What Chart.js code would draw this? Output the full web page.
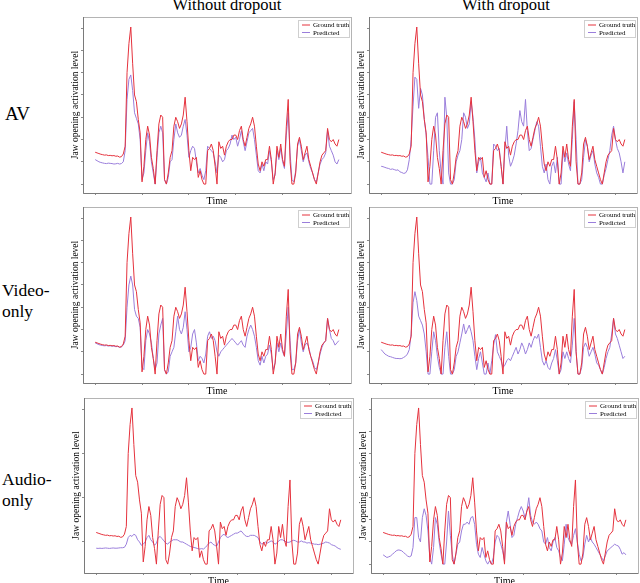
<!DOCTYPE html>
<html><head><meta charset="utf-8">
<script src="https://cdn.jsdelivr.net/npm/chart.js@4"></script>
<style>
html,body{margin:0;padding:0;background:#fff}
body{width:640px;height:583px;position:relative;overflow:hidden;font-family:"Liberation Serif",serif;color:#000}
.t{position:absolute;white-space:nowrap;text-align:center;font-family:"Liberation Serif",serif}
.col{font-size:16.5px;line-height:16.5px;top:-3px;width:200px}
.row{font-size:17.5px;line-height:21px;text-align:left;left:2px}
.pn{position:absolute}
</style></head><body>
<div class="t col" style="left:127px">Without dropout</div>
<div class="t col" style="left:406px">With dropout</div>
<div class="t row" style="top:103px;left:5px;font-size:19px">AV</div>
<div class="t row" style="top:280px">Video-<br>only</div>
<div class="t row" style="top:469px">Audio-<br>only</div>
<div class="pn" id="p0"><canvas id="c0"></canvas></div>
<div class="pn" id="p1"><canvas id="c1"></canvas></div>
<div class="pn" id="p2"><canvas id="c2"></canvas></div>
<div class="pn" id="p3"><canvas id="c3"></canvas></div>
<div class="pn" id="p4"><canvas id="c4"></canvas></div>
<div class="pn" id="p5"><canvas id="c5"></canvas></div>
<script>
// ---- data (frame index, step 2) ----
const frames = Array.from({length:131},(_,i)=>i*2);
const xTicks = [0,50,100,150,200,250];
const yTicks = [0,0.1,0.2,0.3,0.4,0.5,0.6,0.7];
const yTicksAudio = [0.1,0.3,0.5,0.7];
const seriesNames = ['Ground truth','Predicted'];

const groundTruth = [0.143,0.140,0.137,0.134,0.132,0.130,0.131,0.128,0.129,0.127,0.128,0.125,0.126,0.121,0.123,0.135,0.170,0.500,0.630,0.705,
0.540,0.400,0.370,0.290,0.230,0.010,0.080,0.200,0.260,0.220,0.120,0.070,0.000,0.150,0.270,0.310,0.300,0.020,0.000,0.050,
0.120,0.150,0.260,0.300,0.280,0.250,0.270,0.310,0.390,0.280,0.150,0.060,0.120,0.110,0.120,0.030,0.060,0.020,0.000,0.000,
0.150,0.160,0.180,0.150,0.080,0.000,0.190,0.160,0.170,0.130,0.170,0.190,0.200,0.200,0.220,0.220,0.200,0.240,0.260,0.200,
0.170,0.210,0.250,0.270,0.300,0.260,0.170,0.090,0.060,0.100,0.080,0.110,0.110,0.170,0.110,0.000,0.050,0.170,0.120,0.180,
0.110,0.080,0.260,0.380,0.100,0.000,0.000,0.050,0.180,0.210,0.170,0.110,0.140,0.170,0.110,0.080,0.050,0.020,0.000,0.050,
0.100,0.130,0.140,0.150,0.250,0.200,0.190,0.200,0.180,0.170,0.200];

const predAV = [0.110,0.105,0.100,0.097,0.095,0.093,0.092,0.094,0.093,0.092,0.090,0.091,0.093,0.090,0.092,0.100,0.150,0.380,0.470,0.490,
0.420,0.320,0.295,0.270,0.200,0.020,0.050,0.150,0.230,0.190,0.100,0.050,0.000,0.120,0.230,0.260,0.230,0.020,0.000,0.030,
0.100,0.110,0.200,0.270,0.230,0.210,0.220,0.260,0.290,0.220,0.120,0.150,0.170,0.160,0.100,0.050,0.070,0.040,0.020,0.060,
0.170,0.160,0.150,0.140,0.100,0.050,0.130,0.120,0.100,0.110,0.150,0.160,0.180,0.220,0.200,0.210,0.170,0.200,0.240,0.190,
0.150,0.190,0.230,0.240,0.250,0.200,0.130,0.060,0.050,0.090,0.060,0.100,0.090,0.150,0.100,0.020,0.040,0.150,0.110,0.160,
0.100,0.070,0.220,0.320,0.140,0.020,0.010,0.060,0.170,0.200,0.150,0.100,0.130,0.140,0.100,0.070,0.050,0.020,0.010,0.050,
0.090,0.110,0.120,0.140,0.240,0.170,0.150,0.130,0.100,0.090,0.110];

const predAVDropout = [0.080,0.078,0.075,0.072,0.070,0.066,0.068,0.065,0.062,0.064,0.055,0.052,0.048,0.050,0.064,0.110,0.200,0.350,0.480,0.470,
0.340,0.430,0.400,0.290,0.220,0.120,0.000,0.000,0.150,0.300,0.320,0.150,0.050,0.000,0.390,0.300,0.050,0.000,0.000,0.020,
0.100,0.130,0.150,0.200,0.320,0.300,0.250,0.270,0.370,0.300,0.200,0.050,0.100,0.120,0.050,0.030,0.010,0.050,0.000,0.000,
0.180,0.170,0.150,0.160,0.080,0.000,0.150,0.260,0.130,0.080,0.100,0.130,0.180,0.240,0.330,0.280,0.260,0.380,0.240,0.150,
0.160,0.200,0.240,0.280,0.260,0.170,0.080,0.050,0.090,0.020,0.000,0.080,0.100,0.050,0.120,0.000,0.000,0.150,0.100,0.140,
0.090,0.060,0.200,0.370,0.200,0.000,0.000,0.020,0.120,0.200,0.170,0.100,0.130,0.150,0.090,0.050,0.030,0.000,0.000,0.040,
0.070,0.110,0.150,0.220,0.260,0.200,0.160,0.140,0.100,0.050,0.100];

const predVideo = [0.140,0.136,0.132,0.130,0.128,0.127,0.128,0.126,0.127,0.125,0.126,0.123,0.124,0.120,0.122,0.130,0.150,0.300,0.400,0.440,
0.400,0.290,0.260,0.250,0.210,0.030,0.020,0.150,0.200,0.180,0.140,0.070,0.020,0.050,0.180,0.220,0.250,0.020,0.000,0.010,
0.080,0.100,0.120,0.190,0.260,0.200,0.180,0.210,0.280,0.200,0.100,0.120,0.180,0.200,0.140,0.060,0.080,0.070,0.050,0.090,
0.170,0.190,0.160,0.170,0.150,0.100,0.080,0.100,0.110,0.120,0.130,0.140,0.150,0.160,0.150,0.140,0.130,0.140,0.150,0.130,
0.120,0.170,0.200,0.220,0.200,0.170,0.120,0.060,0.040,0.080,0.050,0.080,0.090,0.130,0.090,0.020,0.050,0.140,0.100,0.140,
0.100,0.080,0.180,0.300,0.150,0.020,0.020,0.050,0.150,0.200,0.140,0.100,0.130,0.140,0.120,0.080,0.060,0.030,0.020,0.050,
0.090,0.120,0.140,0.150,0.250,0.200,0.160,0.150,0.130,0.140,0.150];

const predVideoDropout = [0.110,0.100,0.090,0.085,0.080,0.078,0.075,0.072,0.070,0.070,0.069,0.070,0.075,0.080,0.090,0.110,0.180,0.320,0.370,0.330,
0.260,0.240,0.220,0.180,0.100,0.000,0.000,0.100,0.190,0.150,0.080,0.030,0.000,0.000,0.120,0.190,0.080,0.000,0.000,0.020,
0.080,0.100,0.140,0.180,0.225,0.180,0.200,0.220,0.190,0.150,0.080,0.020,0.070,0.100,0.050,0.000,0.000,0.050,0.000,0.060,
0.130,0.177,0.100,0.080,0.060,0.030,0.040,0.060,0.070,0.060,0.080,0.100,0.120,0.090,0.110,0.140,0.120,0.090,0.110,0.140,
0.120,0.150,0.170,0.160,0.180,0.120,0.060,0.040,0.060,0.030,0.020,0.050,0.070,0.110,0.060,0.000,0.020,0.100,0.070,0.100,
0.070,0.050,0.130,0.250,0.100,0.000,0.000,0.030,0.120,0.140,0.120,0.080,0.100,0.120,0.090,0.050,0.040,0.020,0.000,0.030,
0.070,0.100,0.120,0.180,0.250,0.180,0.160,0.130,0.100,0.070,0.080];

const predAudio = [0.072,0.071,0.072,0.071,0.072,0.073,0.072,0.071,0.072,0.073,0.072,0.072,0.073,0.074,0.074,0.076,0.090,0.120,0.130,0.125,
0.135,0.130,0.110,0.100,0.085,0.090,0.100,0.120,0.130,0.110,0.100,0.085,0.095,0.120,0.125,0.115,0.105,0.095,0.090,0.100,
0.105,0.110,0.110,0.110,0.105,0.100,0.100,0.095,0.090,0.085,0.080,0.078,0.075,0.073,0.070,0.068,0.070,0.068,0.075,0.085,
0.095,0.100,0.090,0.085,0.080,0.100,0.120,0.130,0.135,0.125,0.120,0.125,0.130,0.135,0.140,0.140,0.145,0.150,0.140,0.130,
0.125,0.125,0.130,0.130,0.130,0.125,0.120,0.100,0.090,0.095,0.100,0.095,0.100,0.105,0.100,0.090,0.095,0.105,0.110,0.110,
0.105,0.100,0.098,0.100,0.105,0.108,0.105,0.100,0.100,0.105,0.100,0.100,0.095,0.097,0.095,0.093,0.090,0.090,0.088,0.090,
0.092,0.095,0.100,0.098,0.095,0.088,0.085,0.082,0.075,0.070,0.067];

const predAudioDropout = [0.042,0.036,0.030,0.033,0.037,0.045,0.052,0.060,0.064,0.063,0.060,0.052,0.045,0.037,0.033,0.037,0.075,0.210,0.210,0.120,
0.100,0.210,0.250,0.220,0.150,0.030,0.000,0.075,0.210,0.180,0.100,0.045,0.000,0.000,0.100,0.240,0.130,0.045,0.000,0.045,
0.090,0.100,0.150,0.180,0.180,0.190,0.180,0.210,0.215,0.180,0.090,0.045,0.030,0.075,0.045,0.015,0.000,0.015,0.000,0.030,
0.100,0.130,0.120,0.090,0.060,0.015,0.190,0.240,0.180,0.120,0.130,0.180,0.210,0.240,0.260,0.240,0.210,0.240,0.300,0.220,
0.190,0.180,0.190,0.180,0.160,0.150,0.100,0.090,0.120,0.075,0.060,0.100,0.120,0.075,0.060,0.030,0.015,0.090,0.180,0.120,
0.100,0.090,0.130,0.160,0.100,0.045,0.015,0.030,0.090,0.130,0.100,0.120,0.100,0.090,0.075,0.060,0.045,0.030,0.015,0.037,
0.060,0.067,0.075,0.082,0.090,0.085,0.082,0.067,0.045,0.052,0.042];

// ---- styles / layout (not data) ----
const RED = '#e5323d', PURPLE = '#9a7edb';
const FONT = '"Liberation Serif", serif';
const panels = [
  {L:83, T:17, R:351, B:193, pred:predAV, yt:yTicks},
  {L:369,T:17, R:637, B:193, pred:predAVDropout, yt:yTicks},
  {L:83, T:207,R:351, B:383, pred:predVideo, yt:yTicks},
  {L:369,T:207,R:637, B:383, pred:predVideoDropout, yt:yTicks},
  {L:84, T:398,R:353, B:573, pred:predAudio, yt:yTicksAudio},
  {L:371,T:398,R:638, B:573, pred:predAudioDropout, yt:yTicks}
];

const framePlugin = {
  id:'frameBox',
  afterDraw(chart){
    const {ctx, chartArea:a} = chart;
    ctx.save();
    ctx.lineWidth = 1;
    ctx.strokeStyle = '#b4b4b4';
    ctx.strokeRect(Math.round(a.left)+0.5, Math.round(a.top)+0.5, Math.round(a.right-a.left), Math.round(a.bottom-a.top));
    ctx.strokeStyle = '#7a7a7a';
    ctx.beginPath();
    ctx.moveTo(Math.round(a.left)+0.5, Math.round(a.top));
    ctx.lineTo(Math.round(a.left)+0.5, Math.round(a.bottom)+0.5);
    ctx.lineTo(Math.round(a.right), Math.round(a.bottom)+0.5);
    ctx.stroke();
    ctx.restore();
  }
};

const legendPlugin = {
  id:'boxLegend',
  afterDraw(chart){
    const {ctx, chartArea:a} = chart;
    const w = 51, h = 17;
    const x = Math.round(a.right) - w - 2, y = Math.round(a.top) + 3;
    ctx.save();
    ctx.fillStyle = '#fff';
    ctx.fillRect(x, y, w, h);
    ctx.strokeStyle = '#cfcfcf';
    ctx.lineWidth = 1;
    ctx.strokeRect(x+0.5, y+0.5, w, h);
    ctx.font = '7px ' + FONT;
    ctx.textBaseline = 'middle';
    chart.data.datasets.forEach((d,i)=>{
      const ly = y + 5 + i*7.5;
      ctx.strokeStyle = d.borderColor;
      ctx.beginPath(); ctx.moveTo(x+4, ly); ctx.lineTo(x+12, ly); ctx.stroke();
      ctx.fillStyle = '#000';
      ctx.fillText(d.label, x+15, ly+0.5);
    });
    ctx.restore();
  }
};

const YW = 16, XH = 14;
panels.forEach((p,i)=>{
  const div = document.getElementById('p'+i);
  const cv = document.getElementById('c'+i);
  const W = (p.R - p.L) + YW + 2, H = (p.B - p.T) + 2 + XH;
  div.style.left = (p.L - YW) + 'px';
  div.style.top = (p.T - 2) + 'px';
  cv.width = W; cv.height = H;
  cv.style.width = W+'px'; cv.style.height = H+'px';
  const mk = (vals)=>vals.map((v,k)=>({x:frames[k], y:v}));
  new Chart(cv, {
    type:'line',
    data:{datasets:[
      {label:seriesNames[0], data:mk(groundTruth), borderColor:RED, borderWidth:1, pointRadius:0, tension:0, fill:false},
      {label:seriesNames[1], data:mk(p.pred), borderColor:PURPLE, borderWidth:1, pointRadius:0, tension:0, fill:false}
    ]},
    options:{
      responsive:false, animation:false, devicePixelRatio:1,
      layout:{padding:{left:1.6, top:2, right:2, bottom:0}},
      plugins:{legend:{display:false}, tooltip:{enabled:false}},
      scales:{
        x:{type:'linear', min:-13, max:273,
           afterBuildTicks:(s)=>{s.ticks = xTicks.map(v=>({value:v}));},
           ticks:{display:false},
           grid:{drawOnChartArea:false, drawTicks:true, tickLength:2, color:'#8a8a8a'},
           border:{display:false},
           title:{display:true, text:'Time', color:'#000', font:{family:FONT, size:10}, padding:{top:0,bottom:0}}},
        y:{type:'linear', min:-0.04, max:0.75,
           afterBuildTicks:(s)=>{s.ticks = p.yt.map(v=>({value:v}));},
           ticks:{display:false},
           grid:{drawOnChartArea:false, drawTicks:true, tickLength:2, color:'#8a8a8a'},
           border:{display:false},
           title:{display:true, text:'Jaw opening activation level', color:'#000', font:{family:FONT, size:9.5}, padding:{top:1,bottom:0}}}
      }
    },
    plugins:[framePlugin, legendPlugin]
  });
});
</script>
</body></html>
